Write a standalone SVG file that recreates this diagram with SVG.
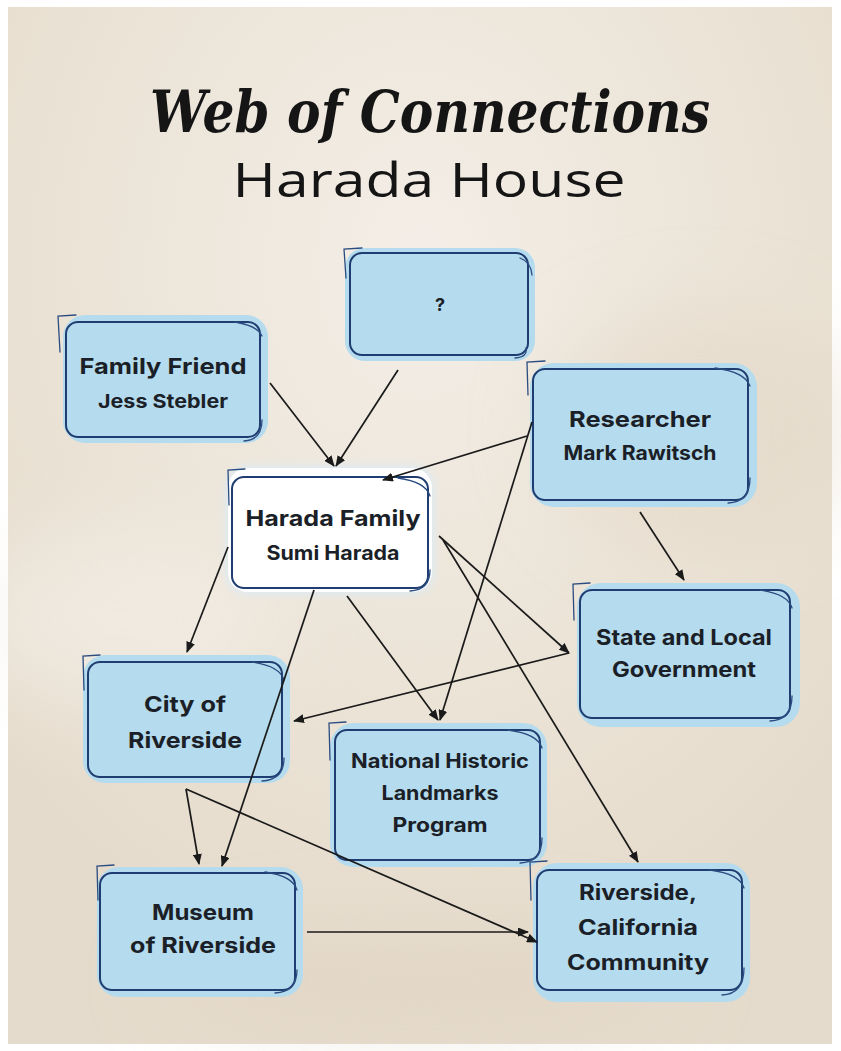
<svg xmlns="http://www.w3.org/2000/svg" width="841" height="1051" viewBox="0 0 841 1051">
<defs>
<style>
.blob{fill:#b5dbee}
.blobw{fill:#ffffff}
.ol{fill:none;stroke:#1f3d70;stroke-width:2}
.sk{fill:none;stroke:#2b4c80;stroke-width:1.3;stroke-linecap:round}
.t{font-family:Inter,"Noto Sans",sans-serif;font-weight:700;fill:#1b1f27;text-anchor:middle}
.c{fill:none;stroke:#1a1a1a;stroke-width:1.7}
</style>
<marker id="ah" markerUnits="userSpaceOnUse" markerWidth="11" markerHeight="9" refX="10" refY="4.5" orient="auto">
<path d="M0,0 L11,4.5 L0,9 z" fill="#1a1a1a"/>
</marker>
<radialGradient id="g1" cx="0.5" cy="0.25" r="0.7">
<stop offset="0" stop-color="#f3eee7"/>
<stop offset="0.6" stop-color="#ebe3d6"/>
<stop offset="1" stop-color="#e5dbcc"/>
</radialGradient>
<filter id="blur" x="-50%" y="-50%" width="200%" height="200%"><feGaussianBlur stdDeviation="40"/></filter>
<filter id="glow" x="-20%" y="-20%" width="140%" height="140%"><feGaussianBlur stdDeviation="4"/></filter>
</defs>
<rect width="841" height="1051" fill="#ffffff"/>
<rect x="8" y="7" width="824" height="1037" fill="url(#g1)"/>
<g filter="url(#blur)" opacity="0.5">
<ellipse cx="120" cy="620" rx="160" ry="90" fill="#f6f2ec"/>
<ellipse cx="700" cy="430" rx="150" ry="120" fill="#e2d6c5"/>
<ellipse cx="420" cy="980" rx="260" ry="50" fill="#e0d4c3"/>
</g>

<g id="title">
<text x="430" y="132" font-family="'DejaVu Serif','Liberation Serif',serif" font-style="italic" font-weight="bold" font-size="58" fill="#151515" text-anchor="middle" textLength="560" lengthAdjust="spacingAndGlyphs">Web of Connections</text>
<text x="429" y="197" font-family="'Open Sans','Liberation Sans',sans-serif" font-weight="400" font-size="47" fill="#151515" text-anchor="middle" textLength="393" lengthAdjust="spacingAndGlyphs">Harada House</text>
</g>

<g id="node-unknown">
<rect class="blob" x="345" y="248" width="190" height="113" rx="20"/>
<rect class="ol" x="350" y="253" width="178" height="102" rx="12"/>
<path class="sk" d="M346,278 L344,249 L362,248 M520,258 Q531,262 532,275 M526,348 Q528,357 515,358"/>
<text class="t" x="440" y="311" font-size="18">?</text>
</g>

<g id="node-family-friend">
<rect class="blob" x="63" y="315" width="205" height="128" rx="22"/>
<rect class="ol" x="66" y="322" width="194" height="115" rx="12"/>
<path class="sk" d="M60,352 L58,316 L76,315 M235,322 Q258,326 262,336 M262,420 Q262,440 244,441"/>
<text class="t" x="163" y="374" font-size="22" textLength="167" lengthAdjust="spacingAndGlyphs">Family Friend</text>
<text class="t" x="163" y="408" font-size="19" textLength="130" lengthAdjust="spacingAndGlyphs">Jess Stebler</text>
</g>

<g id="node-researcher">
<rect class="blob" x="530" y="363" width="227" height="144" rx="24"/>
<rect class="ol" x="533" y="369" width="215" height="131" rx="12"/>
<path class="sk" d="M528,395 L527,362 L545,361 M715,368 Q745,372 750,386 M750,478 Q750,502 728,503"/>
<text class="t" x="640" y="427" font-size="22" textLength="142" lengthAdjust="spacingAndGlyphs">Researcher</text>
<text class="t" x="640" y="460" font-size="20" textLength="153" lengthAdjust="spacingAndGlyphs">Mark Rawitsch</text>
</g>

<g id="node-harada-family">
<rect x="226" y="466" width="208" height="128" rx="22" fill="#dcebf5" filter="url(#glow)"/>
<rect class="blobw" x="228" y="468" width="204" height="124" rx="20"/>
<rect class="ol" x="232" y="477" width="196" height="111" rx="12" stroke="#3b5d94"/>
<path class="sk" d="M229,505 L228,470 L245,469 M398,478 Q426,482 430,496 M430,570 Q430,590 410,591"/>
<text class="t" x="333" y="526" font-size="22" textLength="175" lengthAdjust="spacingAndGlyphs">Harada Family</text>
<text class="t" x="333" y="560" font-size="20" textLength="133" lengthAdjust="spacingAndGlyphs">Sumi Harada</text>
</g>

<g id="node-state-local">
<rect class="blob" x="577" y="583" width="223" height="144" rx="24"/>
<rect class="ol" x="580" y="590" width="210" height="128" rx="12"/>
<path class="sk" d="M574,620 L573,584 L590,583 M760,590 Q788,594 792,608 M792,696 Q792,720 770,721"/>
<text class="t" x="684" y="645" font-size="21" textLength="176" lengthAdjust="spacingAndGlyphs">State and Local</text>
<text class="t" x="684" y="677" font-size="21" textLength="144" lengthAdjust="spacingAndGlyphs">Government</text>
</g>

<g id="node-city">
<rect class="blob" x="83" y="655" width="207" height="128" rx="22"/>
<rect class="ol" x="88" y="662" width="194" height="115" rx="12"/>
<path class="sk" d="M84,690 L83,656 L100,655 M252,662 Q280,666 284,680 M284,758 Q284,780 262,781"/>
<text class="t" x="185" y="712" font-size="22" textLength="82" lengthAdjust="spacingAndGlyphs">City of</text>
<text class="t" x="185" y="748" font-size="22" textLength="114" lengthAdjust="spacingAndGlyphs">Riverside</text>
</g>

<g id="node-nhl">
<rect class="blob" x="330" y="723" width="217" height="144" rx="24"/>
<rect class="ol" x="335" y="730" width="205" height="130" rx="12"/>
<path class="sk" d="M330,760 L329,723 L346,722 M508,730 Q538,734 542,748 M542,838 Q542,862 520,863"/>
<text class="t" x="440" y="768" font-size="20" textLength="178" lengthAdjust="spacingAndGlyphs">National Historic</text>
<text class="t" x="440" y="800" font-size="20" textLength="117" lengthAdjust="spacingAndGlyphs">Landmarks</text>
<text class="t" x="440" y="832" font-size="20" textLength="95" lengthAdjust="spacingAndGlyphs">Program</text>
</g>

<g id="node-museum">
<rect class="blob" x="97" y="867" width="206" height="130" rx="22"/>
<rect class="ol" x="100" y="873" width="195" height="117" rx="12"/>
<path class="sk" d="M98,900 L97,866 L114,865 M265,872 Q293,876 297,890 M297,970 Q297,992 275,993"/>
<text class="t" x="203" y="920" font-size="22" textLength="102" lengthAdjust="spacingAndGlyphs">Museum</text>
<text class="t" x="203" y="953" font-size="22" textLength="146" lengthAdjust="spacingAndGlyphs">of Riverside</text>
</g>

<g id="node-community">
<rect class="blob" x="533" y="863" width="217" height="139" rx="24"/>
<rect class="ol" x="537" y="870" width="205" height="120" rx="12"/>
<path class="sk" d="M531,900 L530,862 L547,861 M710,870 Q740,874 744,888 M744,968 Q744,994 722,995"/>
<text class="t" x="638" y="900" font-size="21" textLength="118" lengthAdjust="spacingAndGlyphs">Riverside,</text>
<text class="t" x="638" y="935" font-size="21" textLength="120" lengthAdjust="spacingAndGlyphs">California</text>
<text class="t" x="638" y="970" font-size="21" textLength="142" lengthAdjust="spacingAndGlyphs">Community</text>
</g>

<g id="connectors">
<path class="c" marker-end="url(#ah)" d="M270,383 L334,466"/>
<path class="c" marker-end="url(#ah)" d="M398,370 L336,466"/>
<path class="c" marker-end="url(#ah)" d="M527,436 L383,480"/>
<path class="c" marker-end="url(#ah)" d="M532,422 L440,720"/>
<path class="c" marker-end="url(#ah)" d="M640,512 L684,580"/>
<path class="c" marker-end="url(#ah)" d="M228,547 L187,652"/>
<path class="c" marker-end="url(#ah)" d="M314,590 L222,866"/>
<path class="c" marker-end="url(#ah)" d="M347,596 L438,720"/>
<path class="c" marker-end="url(#ah)" d="M439,536 L569,653"/>
<path class="c" marker-end="url(#ah)" d="M443,540 L638,862"/>
<path class="c" marker-end="url(#ah)" d="M569,653 L294,721"/>
<path class="c" marker-end="url(#ah)" d="M186,789 L199,864"/>
<path class="c" marker-end="url(#ah)" d="M186,789 L537,942"/>
<path class="c" marker-end="url(#ah)" d="M307,932 L528,932"/>
</g>
</svg>
